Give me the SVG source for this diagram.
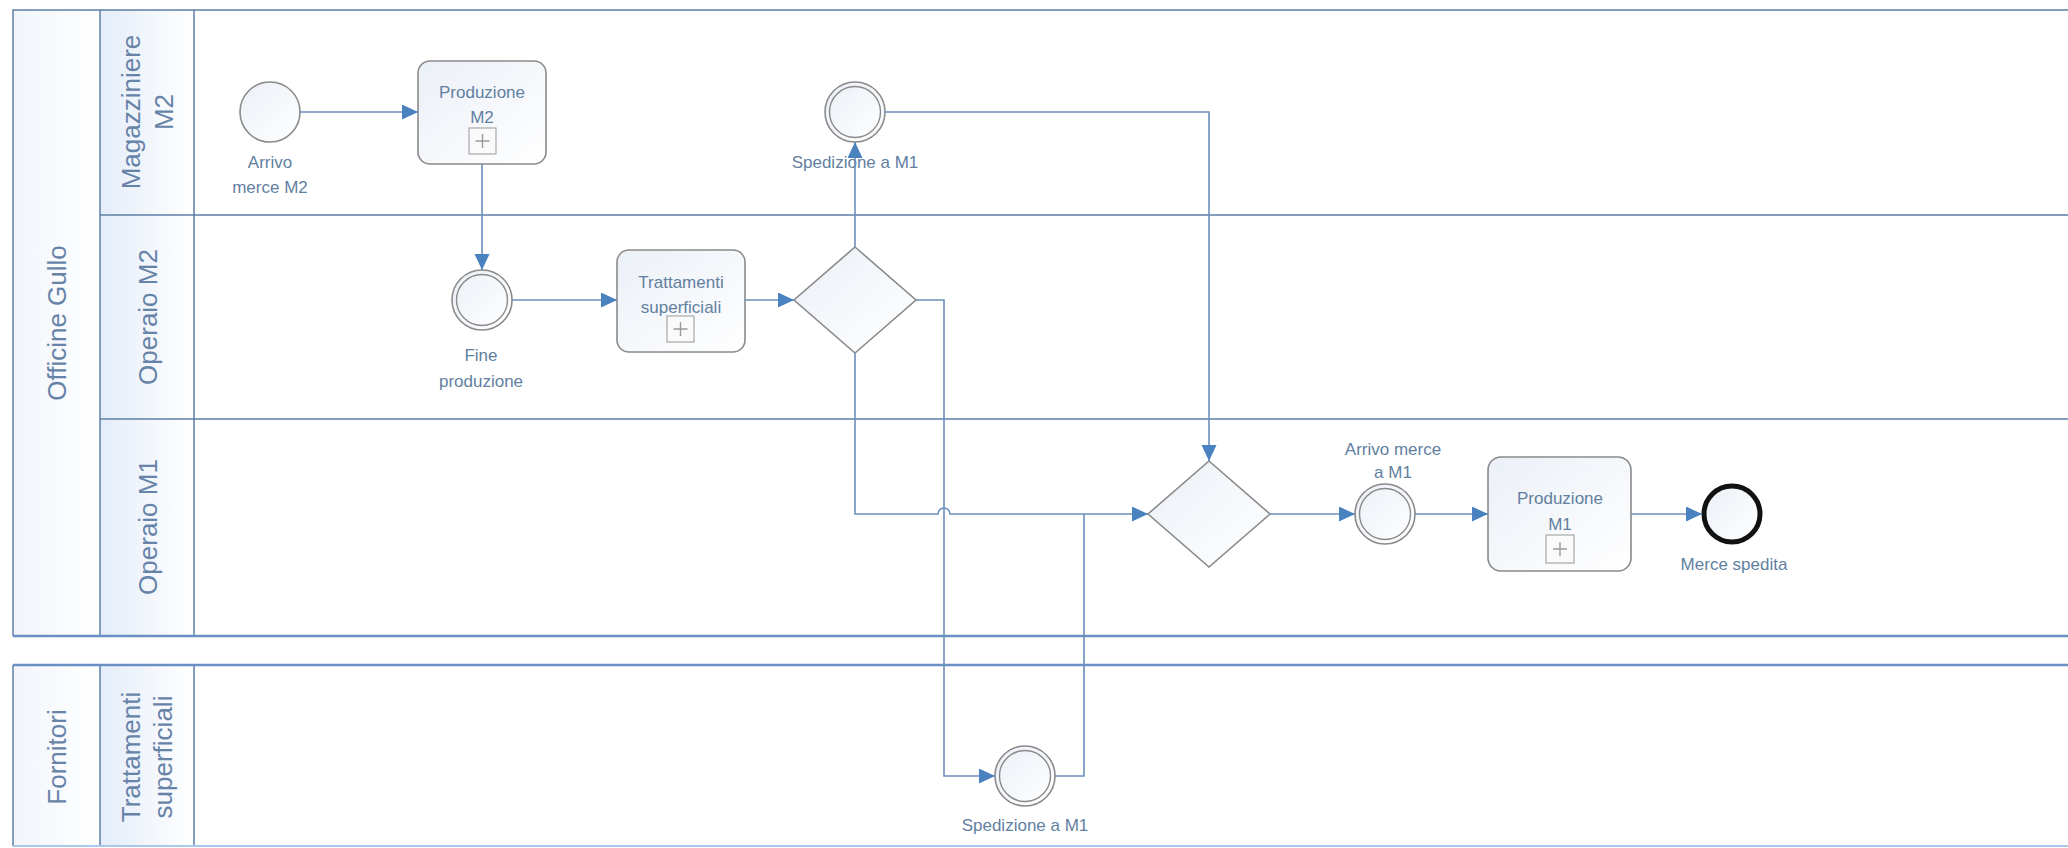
<svg xmlns="http://www.w3.org/2000/svg" width="2068" height="848" viewBox="0 0 2068 848">
<style>
  .lane { fill: none; stroke: #5f7fa8; stroke-width: 1.5; }
  .poolb { fill: none; stroke: #6a8fc4; stroke-width: 2.5; }
  .shape { stroke: #8a8a8a; stroke-width: 1.6; fill: url(#sf); }
  .inner { fill: none; stroke: #8a8a8a; stroke-width: 1.4; }
  .plus { fill: #fafafa; stroke: #a8a8a8; stroke-width: 1.2; }
  .plusl { stroke: #9a9a9a; stroke-width: 1.4; }
  .conn { fill: none; stroke: #6b8fba; stroke-width: 1.6; }
  .lbl { font-family: "Liberation Sans", Arial, sans-serif; font-size: 17px; fill: #62809f; text-anchor: middle; }
  .lanelbl { font-family: "Liberation Sans", Arial, sans-serif; font-size: 26px; fill: #6783a8; text-anchor: middle; dominant-baseline: central; }
</style>
<defs>
  <linearGradient id="sf" x1="0" y1="0" x2="1" y2="1">
    <stop offset="0" stop-color="#ebf0f7"/>
    <stop offset="1" stop-color="#ffffff"/>
  </linearGradient>
  <linearGradient id="lg" x1="0" y1="0" x2="1" y2="0">
    <stop offset="0" stop-color="#e4edf9"/>
    <stop offset="1" stop-color="#ffffff"/>
  </linearGradient>
  <linearGradient id="pg" x1="0" y1="0" x2="1" y2="0">
    <stop offset="0" stop-color="#f1f5fb"/>
    <stop offset="1" stop-color="#ffffff"/>
  </linearGradient>
  <marker id="arr" markerUnits="userSpaceOnUse" markerWidth="18" markerHeight="16" refX="16" refY="7.5" orient="auto">
    <path d="M0,0 L16,7.5 L0,15 Z" fill="#4a82c0"/>
  </marker>
</defs>
<rect width="2068" height="848" fill="#ffffff"/>

<g id="pool-officine">
  <rect x="13" y="10" width="87" height="626" fill="url(#pg)"/>
  <rect x="100" y="10" width="94" height="626" fill="url(#lg)"/>
  <path class="lane" d="M2070,10 H13 V636 M100,10 V636 M194,10 V636 M100,215 H2070 M100,419 H2070"/>
  <path class="poolb" d="M13,636 H2070"/>
  <text class="lanelbl" transform="rotate(-90 57 323)" x="57" y="323">Officine Gullo</text>
  <text class="lanelbl" transform="rotate(-90 131 112)" x="131" y="112">Magazziniere</text>
  <text class="lanelbl" transform="rotate(-90 164 112)" x="164" y="112">M2</text>
  <text class="lanelbl" transform="rotate(-90 148 317)" x="148" y="317">Operaio M2</text>
  <text class="lanelbl" transform="rotate(-90 148 527)" x="148" y="527">Operaio M1</text>
</g>

<g id="pool-fornitori">
  <rect x="13" y="665" width="87" height="181" fill="url(#pg)"/>
  <rect x="100" y="665" width="94" height="181" fill="url(#lg)"/>
  <path class="lane" d="M13,846 V665 M100,665 V846 M194,665 V846"/>
  <path class="poolb" d="M13,665 H2070"/>
  <path d="M13,846 H2070" stroke="#a9c8ea" stroke-width="2" fill="none"/>
  <text class="lanelbl" transform="rotate(-90 57 757)" x="57" y="757">Fornitori</text>
  <text class="lanelbl" transform="rotate(-90 131 757)" x="131" y="757">Trattamenti</text>
  <text class="lanelbl" transform="rotate(-90 163 757)" x="163" y="757">superficiali</text>
</g>

<g id="arrivo-merce-m2">
  <circle class="shape" cx="270" cy="112" r="30"/>
  <text class="lbl" x="270" y="168">Arrivo</text>
  <text class="lbl" x="270" y="193">merce M2</text>
</g>

<g id="produzione-m2">
  <rect class="shape" x="418" y="61" width="128" height="103" rx="12"/>
  <text class="lbl" x="482" y="98">Produzione</text>
  <text class="lbl" x="482" y="123">M2</text>
  <rect class="plus" x="469" y="128" width="27" height="26"/>
  <path class="plusl" d="M475.5,141 H489.5 M482.5,134 V148"/>
</g>

<g id="fine-produzione">
  <circle class="shape" cx="482" cy="300" r="30"/>
  <circle class="inner" cx="482" cy="300" r="25.5"/>
  <text class="lbl" x="481" y="361">Fine</text>
  <text class="lbl" x="481" y="387">produzione</text>
</g>

<g id="trattamenti-superficiali">
  <rect class="shape" x="617" y="250" width="128" height="102" rx="12"/>
  <text class="lbl" x="681" y="288">Trattamenti</text>
  <text class="lbl" x="681" y="313">superficiali</text>
  <rect class="plus" x="667" y="316" width="27" height="26"/>
  <path class="plusl" d="M673.5,329 H687.5 M680.5,322 V336"/>
</g>

<g id="gateway-1">
  <path class="shape" d="M855,247 L916,300 L855,353 L794,300 Z"/>
</g>

<g id="spedizione-m1-top">
  <circle class="shape" cx="855" cy="112" r="30"/>
  <circle class="inner" cx="855" cy="112" r="25.5"/>
  <text class="lbl" x="855" y="168">Spedizione a M1</text>
</g>

<g id="spedizione-m1-bottom">
  <circle class="shape" cx="1025" cy="776" r="30"/>
  <circle class="inner" cx="1025" cy="776" r="25.5"/>
  <text class="lbl" x="1025" y="831">Spedizione a M1</text>
</g>

<g id="gateway-2">
  <path class="shape" d="M1209,461 L1270,514 L1209,567 L1148,514 Z"/>
</g>

<g id="arrivo-merce-m1">
  <circle class="shape" cx="1385" cy="514" r="30"/>
  <circle class="inner" cx="1385" cy="514" r="25.5"/>
  <text class="lbl" x="1393" y="455">Arrivo merce</text>
  <text class="lbl" x="1393" y="478">a M1</text>
</g>

<g id="produzione-m1">
  <rect class="shape" x="1488" y="457" width="143" height="114" rx="13"/>
  <text class="lbl" x="1560" y="504">Produzione</text>
  <text class="lbl" x="1560" y="530">M1</text>
  <rect class="plus" x="1546" y="535" width="28" height="28"/>
  <path class="plusl" d="M1553,549 H1567 M1560,542 V556"/>
</g>

<g id="merce-spedita">
  <circle cx="1732" cy="514" r="28" fill="url(#sf)" stroke="#111111" stroke-width="5"/>
  <text class="lbl" x="1734" y="570">Merce spedita</text>
</g>

<g id="connectors">
  <path class="conn" marker-end="url(#arr)" d="M300,112 H418"/>
  <path class="conn" marker-end="url(#arr)" d="M482,164 V270"/>
  <path class="conn" marker-end="url(#arr)" d="M512,300 H617"/>
  <path class="conn" marker-end="url(#arr)" d="M745,300 H794"/>
  <path class="conn" marker-end="url(#arr)" d="M855,247 V142"/>
  <path class="conn" marker-end="url(#arr)" d="M885,112 H1209 V461"/>
  <path class="conn" marker-end="url(#arr)" d="M916,300 H944 V776 H995"/>
  <path class="conn" marker-end="url(#arr)" d="M855,353 V514 H938 A6,6 0 0 1 950,514 H1148"/>
  <path class="conn" d="M1055,776 H1084 V514"/>
  <path class="conn" marker-end="url(#arr)" d="M1270,514 H1355"/>
  <path class="conn" marker-end="url(#arr)" d="M1415,514 H1488"/>
  <path class="conn" marker-end="url(#arr)" d="M1631,514 H1702"/>
</g>
</svg>
